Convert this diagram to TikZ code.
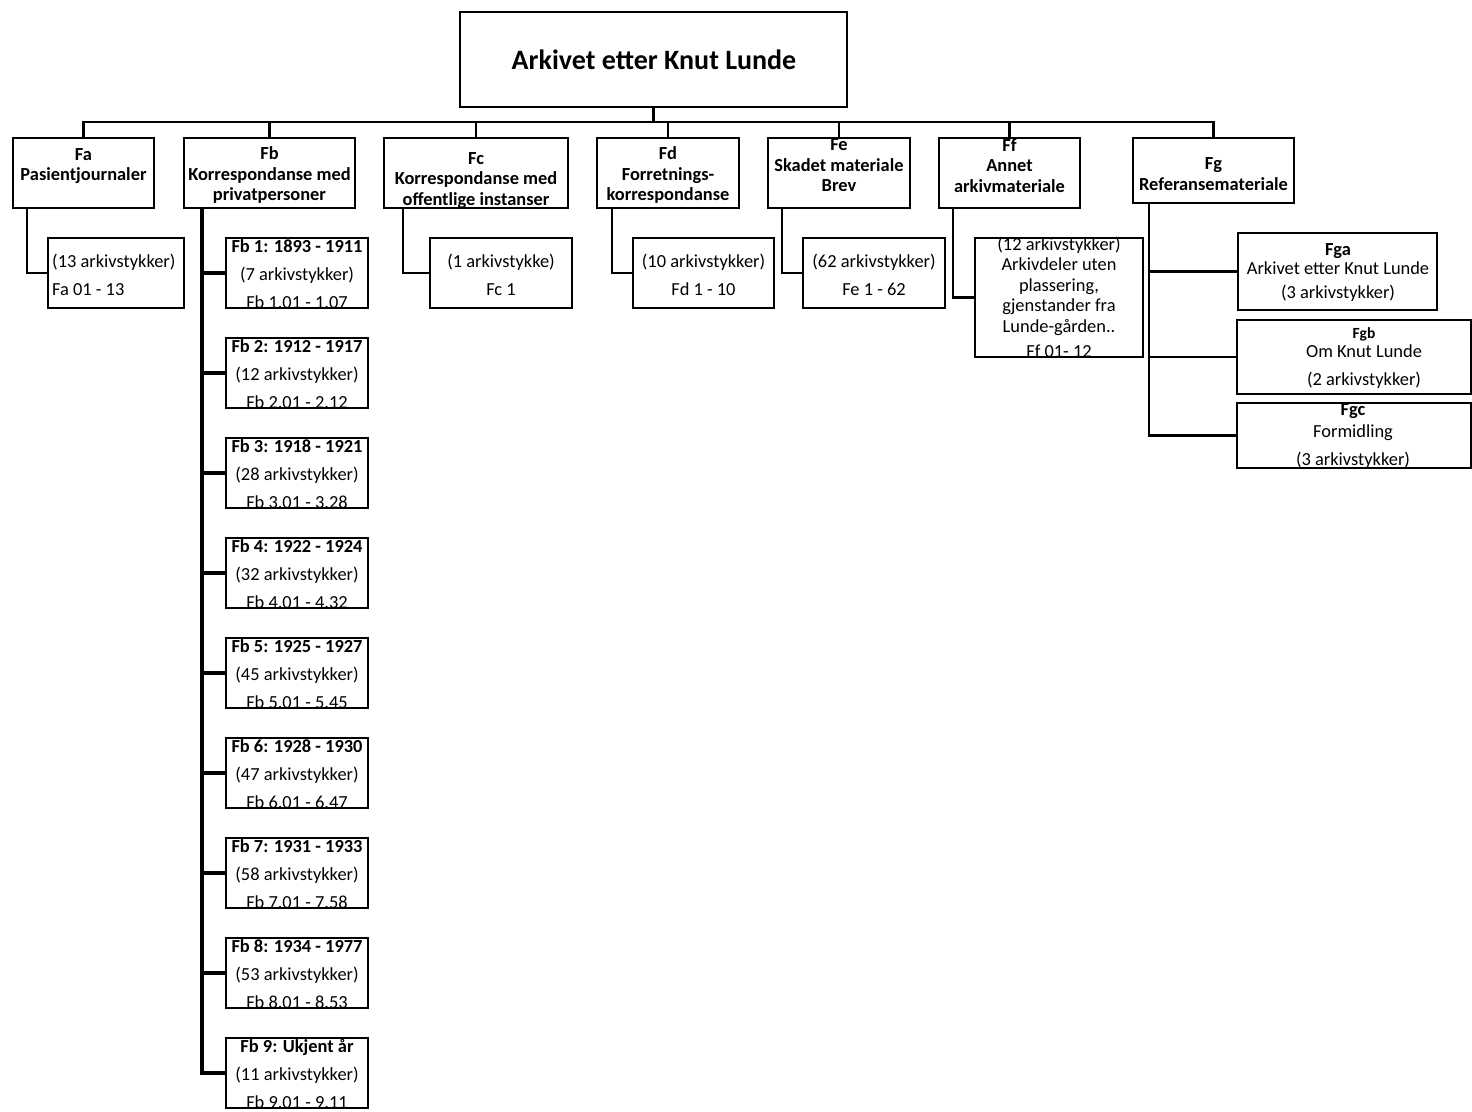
\documentclass[tikz,border=0pt]{standalone}
\usepackage{fontspec}
\setmainfont{Carlito}
\usepackage{tikz}

\tikzset{
  arkbox/.style={draw, line width=2.8pt, inner sep=0pt, outer sep=0pt},
  arkline/.style={line width=2.8pt},
  arkhead/.style={font=\fontsize{18.4}{20.5}\selectfont\bfseries, align=center, inner sep=0pt},
  arktext/.style={font=\fontsize{18.4}{28}\selectfont, align=center, inner sep=0pt},
}

\begin{document}
\begin{tikzpicture}[x=1pt,y=1pt,yscale=-1]
\useasboundingbox (0,0) rectangle (1472,1111);

% Box
\node [arkbox, minimum width=387, minimum height=95] (top) at (653.5,59.5) {};
\node [arkbox, minimum width=141, minimum height=70] (fa) at (83.5,173) {};
\node [arkbox, minimum width=171, minimum height=70] (fb) at (269.5,173) {};
\node [arkbox, minimum width=184, minimum height=70] (fc) at (476,173) {};
\node [arkbox, minimum width=142, minimum height=70] (fd) at (668,173) {};
\node [arkbox, minimum width=142, minimum height=70] (fe) at (839,173) {};
\node [arkbox, minimum width=141, minimum height=70] (ff) at (1009.5,173) {};
\node [arkbox, minimum width=161, minimum height=65] (fg) at (1213.5,170.5) {};
% Box
\node [arkbox, minimum width=136, minimum height=70] (fa1) at (116,273) {};
\node [arkbox, minimum width=142, minimum height=70] (fc1) at (501,273) {};
\node [arkbox, minimum width=141, minimum height=70] (fd1) at (703.5,273) {};
\node [arkbox, minimum width=142, minimum height=70] (fe1) at (874,273) {};
\node [arkbox, minimum width=168, minimum height=119] (ff1) at (1059,297.5) {};
\node [arkbox, minimum width=199, minimum height=77] (fga) at (1337.5,271.5) {};
\node [arkbox, minimum width=234, minimum height=74] (fgb) at (1354,357) {};
\node [arkbox, minimum width=234, minimum height=65] (fgc) at (1354,435.5) {};

% Text Node
\node [arkhead, font=\fontsize{28}{34}\selectfont\bfseries] (top-t) at (654,60) {Arkivet etter Knut Lunde};
% Text Node
\node [arkhead] (fa-t) at (83.5,166) {Fa\\Pasientjournaler};
% Text Node
\node [arkhead] (fb-t) at (269.5,175) {Fb\\Korrespondanse med\\privatpersoner};
% Text Node
\node [arkhead] (fc-t) at (476,180.5) {Fc\\Korrespondanse med\\offentlige instanser};
% Text Node
\node [arkhead] (fd-t) at (668,175) {Fd\\Forretnings-\\korrespondanse};
% Text Node
\node [arkhead] (fe-t) at (839,165.5) {Fe\\Skadet materiale\\Brev};
% Text Node
\node [arkhead] (ff-t) at (1009.5,165.5) {Ff\\Annet\\arkivmateriale};
% Text Node
\node [arkhead] (fg-t) at (1213.5,174) {Fg\\Referansemateriale};

% Text Node
\node [arktext, align=left, anchor=west] (fa1-t) at (52,275) {(13 arkivstykker)\\Fa 01 - 13};
% Text Node
\node [arktext] (fc1-t) at (501,275) {(1 arkivstykke)\\Fc 1};
% Text Node
\node [arktext] (fd1-t) at (703.5,275) {(10 arkivstykker)\\Fd 1 - 10};
% Text Node
\node [arktext] (fe1-t) at (874,275) {(62 arkivstykker)\\Fe 1 - 62};
% Text Node
\node [arktext, font=\fontsize{18.4}{20.5}\selectfont] (ff1-t) at (1059,297.5) {(12 arkivstykker)\\Arkivdeler uten\\plassering,\\gjenstander fra\\Lunde-gården..\\[5pt]Ff 01- 12};
% Text Node
\node [arktext, font=\fontsize{18.4}{19}\selectfont] (fga-t) at (1338,272.5) {\textbf{Fga}\\Arkivet etter Knut Lunde\\[5pt](3 arkivstykker)};
% Text Node
\node [arktext, font=\fontsize{18.4}{19}\selectfont] (fgb-t) at (1364,358) {{\fontsize{15.5}{15.5}\selectfont\textbf{Fgb}}\\Om Knut Lunde\\[9pt](2 arkivstykker)};
% Text Node
\node [arktext, font=\fontsize{18.4}{22}\selectfont] (fgc-t) at (1353,436.5) {\textbf{Fgc}\\Formidling\\[6pt](3 arkivstykker)};

% Box and Text Node
\foreach \i/\yrs/\cnt/\last in {1/1893 - 1911/7/07, 2/1912 - 1917/12/12, 3/1918 - 1921/28/28,
    4/1922 - 1924/32/32, 5/1925 - 1927/45/45, 6/1928 - 1930/47/47,
    7/1931 - 1933/58/58, 8/1934 - 1977/53/53, 9/Ukjent år/11/11}{
  \node [arkbox, minimum width=142, minimum height=70] (fb\i) at (297,{173+100*\i}) {};
  \node [arktext] (fb\i-t) at (297,{174+100*\i}) {\textbf{Fb \i: \yrs}\\(\cnt\ arkivstykker)\\Fb \i.01 - \i.\last};
}

% Connection
\coordinate (bus) at (0,122);
\foreach \n in {fa,fb,fc,fd,fe,ff,fg}
  \draw [arkline] (top.south) -- (top.south |- bus) -| (\n.north);
% Connection
\draw [arkline] ([xshift=14pt]fa.south west) |- (fa1.west);
\foreach \i in {1,...,9}
  \draw [arkline, line width=3.6pt] ([xshift=18pt]fb.south west) |- (fb\i.west);
\draw [arkline] ([xshift=19pt]fc.south west) |- (fc1.west);
\draw [arkline] ([xshift=15pt]fd.south west) |- (fd1.west);
\draw [arkline] ([xshift=14pt]fe.south west) |- (fe1.west);
\draw [arkline] ([xshift=14pt]ff.south west) |- (ff1.west);
\foreach \n in {fga,fgb,fgc}
  \draw [arkline] ([xshift=16pt]fg.south west) |- (\n.west);

\end{tikzpicture}
\end{document}
